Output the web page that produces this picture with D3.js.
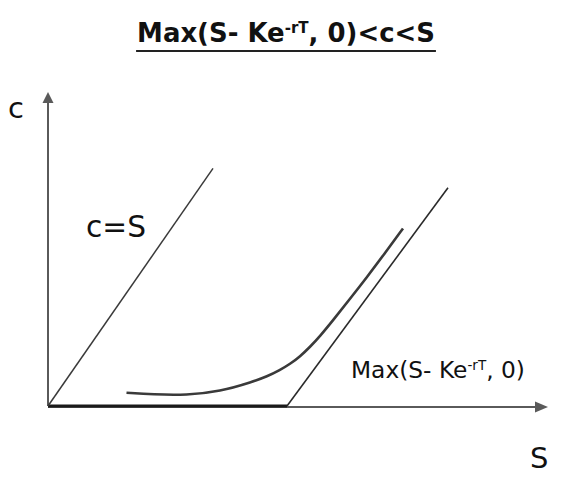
<!DOCTYPE html>
<html><head><meta charset="utf-8">
<script src="https://cdn.jsdelivr.net/npm/d3@7"></script>
<style>body{margin:0;background:#fff;} svg{display:block;} text{font-family:"DejaVu Sans",sans-serif;}</style>
</head><body><svg id="c" width="563" height="482"></svg>
<script>
// Data (S, c)
const upperBound = [[0, 0], [3.3, 3.3]];                 // c = S
const lowerBound = [[4.78, 0], [8.0, 3.03]];             // Max(S - Ke^-rT, 0), rising part
const floorLine  = [[0, 0], [4.78, 0]];                  // Max(...) = 0 part
const callCurve  = [[1.57,0.185],[2.10,0.16],[2.77,0.15],[3.44,0.20],[4.10,0.338],[4.38,0.41],[4.64,0.50],[4.84,0.583],[5.04,0.6875],[5.24,0.82],[5.44,0.97],[5.70,1.19],[6.04,1.49],[6.38,1.79],[6.74,2.125],[7.10,2.465]];
const titleParts = ["Max(S- Ke", "-rT", ", 0)<c<S"];
const labelParts = ["Max(S- Ke", "-rT", ", 0)"];
const axisLabels = {x: "S", y: "c"};
const lineLabel = "c=S";

const svg = d3.select("#c");
const x = d3.scaleLinear().domain([0, 10]).range([48, 548]);
const y = d3.scaleLinear().domain([0, 4.36]).range([406, 92]);
const line = d3.line().x(d => x(d[0])).y(d => y(d[1]));
const curve = d3.line().x(d => x(d[0])).y(d => y(d[1])).curve(d3.curveBasis);

const axisCol = "#5a5a5a";
// axes
svg.append("line").attr("x1", x(0)).attr("y1", y(0)).attr("x2", x(0)).attr("y2", y(4.36) + 11)
  .attr("stroke", axisCol).attr("stroke-width", 2);
svg.append("path").attr("d", `M${x(0)},${y(4.36)} L${x(0)-5.5},${y(4.36)+11} L${x(0)+5.5},${y(4.36)+11}Z`).attr("fill", axisCol);
svg.append("line").attr("x1", x(0)).attr("y1", y(0)+1).attr("x2", x(10) - 12).attr("y2", y(0)+1)
  .attr("stroke", axisCol).attr("stroke-width", 2);
svg.append("path").attr("d", `M${x(10)},${y(0)+1} L${x(10)-13},${y(0)+1-5.5} L${x(10)-13},${y(0)+1+5.5}Z`).attr("fill", axisCol);

// marks
svg.append("path").attr("d", line(floorLine)).attr("stroke", "#1a1a1a").attr("stroke-width", 3).attr("fill", "none");
svg.append("path").attr("d", line(upperBound)).attr("stroke", "#3a3a3a").attr("stroke-width", 1.5).attr("fill", "none");
svg.append("path").attr("d", line(lowerBound)).attr("stroke", "#2a2a2a").attr("stroke-width", 1.6).attr("fill", "none");
svg.append("path").attr("d", curve(callCurve)).attr("stroke", "#3a3a3a").attr("stroke-width", 2.6).attr("fill", "none");

function supText(g, parts, size, weight) {
  const t = g.append("text").attr("x", 0).attr("y", 0).attr("font-size", size).attr("font-weight", weight).attr("fill", "#111");
  t.append("tspan").attr("class", "a").text(parts[0]);
  t.append("tspan").attr("class", "s").attr("font-size", size * 0.58).attr("dy", -size * 0.36).text(parts[1]);
  t.append("tspan").attr("class", "b").attr("dy", size * 0.36).text(parts[2]);
  return t;
}
function fitSize(t, size, target) {
  const w = t.node().getComputedTextLength();
  const ns = size * target / w;
  t.attr("font-size", ns);
  t.select(".s").attr("font-size", ns * 0.58).attr("dy", -ns * 0.36);
  t.select(".b").attr("dy", ns * 0.36);
  return t;
}

// labels
svg.append("text").attr("x", 8).attr("y", 118).attr("font-size", 29).attr("fill", "#111").text(axisLabels.y);
svg.append("text").attr("x", 530).attr("y", 468).attr("font-size", 29).attr("fill", "#111").text(axisLabels.x);
const cs = svg.append("text").attr("x", 86).attr("y", 237).attr("font-size", 28).attr("fill", "#111").text(lineLabel);
fitSize(cs, 28, 60);

// curve label: slightly condensed to match the reference proportions
const labG = svg.append("g");
const lab = supText(labG, labelParts, 23, 400);
const lw = lab.node().getComputedTextLength();
labG.attr("transform", `translate(351,378) scale(${174 / lw},1)`);

const titleG = svg.append("g");
const title = supText(titleG, titleParts, 24, 700);
fitSize(title, 24, 298);
const bb = title.node().getBBox();
const tx = 286 - bb.width / 2;
titleG.attr("transform", `translate(${tx},42)`);
svg.append("line").attr("x1", tx - 1).attr("x2", tx + bb.width + 1).attr("y1", 51).attr("y2", 51)
  .attr("stroke", "#222").attr("stroke-width", 2);
</script></body></html>
